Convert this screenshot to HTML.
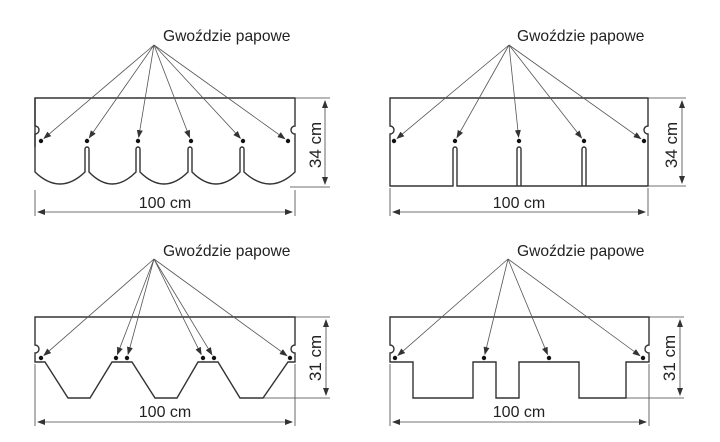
<!DOCTYPE html>
<html><head><meta charset="utf-8"><style>
html,body{margin:0;padding:0;background:#fff;}
svg{display:block;}
text{font-family:"Liberation Sans","DejaVu Sans",sans-serif;fill:#222;}
</style></head><body>
<svg id="s" width="720" height="442" viewBox="0 0 720 442" xmlns="http://www.w3.org/2000/svg">
<defs>
<marker id="ah" markerWidth="8" markerHeight="6" refX="7" refY="3" orient="auto" markerUnits="userSpaceOnUse">
<path d="M0,0 L8,3 L0,6 z" fill="#333"/></marker>
<marker id="dh" markerWidth="8" markerHeight="6" refX="7" refY="3" orient="auto-start-reverse" markerUnits="userSpaceOnUse">
<path d="M0,0 L8,3 L0,6 z" fill="#333"/></marker>
</defs>
<g fill="none" stroke="#333" stroke-width="1.4">
<path d="M35,147 L35,98 L295,98 L295,126 A4,4 0 0 0 295,134 L295,147"/>
<path d="M35,126 A4,4 0 0 1 35,134"/>
<path d="M35,98 L35,126 M35,134 L35,172 Q60,196 85,172 L85,149 A2,2 0 0 1 89,149 L89,172 Q112,196 136,172 L136,149 A2,2 0 0 1 140,149 L140,172 Q164,196 188,172 L188,149 A2,2 0 0 1 192,149 L192,172 Q216,196 240,172 L240,149 A2,2 0 0 1 244,149 L244,172 Q270,196 295,172 L295,147"/>
<path d="M390,98 L648,98 L648,126 A4,4 0 0 0 648,134 L648,186 L457,186 L457,149 A2,2 0 0 0 453,149 L453,186 L390,186 L390,134 A4,4 0 0 0 390,126 Z"/>
<path d="M521,186 L521,149 A2,2 0 0 0 517,149 L517,186 M586,186 L586,149 A2,2 0 0 0 582,149 L582,186"/>
<path d="M35,317 L295,317 L295,345 A4,4 0 0 0 295,353 L295,362 L288,362 L263,398 L240,398 L218,362 L198,362 L177,398 L155,398 L132,362 L112,362 L90,398 L68,398 L45,362 L35,362 L35,353 A4,4 0 0 0 35,345 Z"/>
<path d="M390,317 L649,317 L649,345 A4,4 0 0 0 649,353 L649,362 L626,362 L626,398 L579,398 L579,362 L519,362 L519,398 L496,398 L496,362 L473,362 L473,398 L413,398 L413,362 L390,362 L390,353 A4,4 0 0 0 390,345 Z"/>
</g>
<g stroke="#444" stroke-width="0.8" fill="none">
<path d="M295,98 L330,98 M290,187 L330,187 M35,190 L35,216 M295,190 L295,216"/>
<line x1="325" y1="101" x2="325" y2="184" marker-start="url(#dh)" marker-end="url(#dh)"/>
<line x1="38" y1="212" x2="292" y2="212" marker-start="url(#dh)" marker-end="url(#dh)"/>
<path d="M648,98 L686,98 M648,186 L686,186 M390,188 L390,216 M648,188 L648,216"/>
<line x1="682" y1="101" x2="682" y2="183" marker-start="url(#dh)" marker-end="url(#dh)"/>
<line x1="393" y1="212" x2="645" y2="212" marker-start="url(#dh)" marker-end="url(#dh)"/>
<path d="M295,317 L330,317 M263,398 L330,398 M35,364 L35,426 M295,364 L295,426"/>
<line x1="326" y1="320" x2="326" y2="395" marker-start="url(#dh)" marker-end="url(#dh)"/>
<line x1="38" y1="422" x2="292" y2="422" marker-start="url(#dh)" marker-end="url(#dh)"/>
<path d="M649,317 L684,317 M626,398 L684,398 M390,364 L390,426 M649,364 L649,426"/>
<line x1="680" y1="320" x2="680" y2="395" marker-start="url(#dh)" marker-end="url(#dh)"/>
<line x1="393" y1="422" x2="646" y2="422" marker-start="url(#dh)" marker-end="url(#dh)"/>
</g>
<g font-size="15.6">
<text x="163" y="41">Gwoździe papowe</text>
<text x="517" y="41">Gwoździe papowe</text>
<text x="163" y="256">Gwoździe papowe</text>
<text x="517" y="256">Gwoździe papowe</text>
<text x="165" y="208" text-anchor="middle" font-size="16">100 cm</text>
<text x="519" y="208" text-anchor="middle" font-size="16">100 cm</text>
<text x="165" y="417" text-anchor="middle" font-size="16">100 cm</text>
<text x="519" y="417" text-anchor="middle" font-size="16">100 cm</text>
<text transform="translate(321,145) rotate(-90)" text-anchor="middle" font-size="17">34 cm</text>
<text transform="translate(677,145) rotate(-90)" text-anchor="middle" font-size="17">34 cm</text>
<text transform="translate(321,358) rotate(-90)" text-anchor="middle" font-size="17">31 cm</text>
<text transform="translate(675,358) rotate(-90)" text-anchor="middle" font-size="17">31 cm</text>
</g>
<g id="arrows"></g>
</svg>
<script>
var groups=[
 [[154,45],141,[41,87,138,191,243,288]],
 [[509,45],141,[394,455,519,584,644]],
 [[154,259],358,[41,116,127,203,214,290]],
 [[508,259],358,[395,484,549,643]]
];
var g=document.getElementById("arrows"),h="";
groups.forEach(function(q){var ax=q[0][0],ay=q[0][1],y=q[1];
 q[2].forEach(function(x){var dx=x-ax,dy=y-ay,L=Math.sqrt(dx*dx+dy*dy),ex=x-dx/L*4,ey=y-dy/L*4;
  h+='<line x1="'+ax+'" y1="'+ay+'" x2="'+ex.toFixed(1)+'" y2="'+ey.toFixed(1)+'" stroke="#555" stroke-width="0.8" marker-end="url(#ah)"/>';
  h+='<circle cx="'+x+'" cy="'+y+'" r="2.2" fill="#111"/>';});});
g.innerHTML=h;
</script>
</body></html>
